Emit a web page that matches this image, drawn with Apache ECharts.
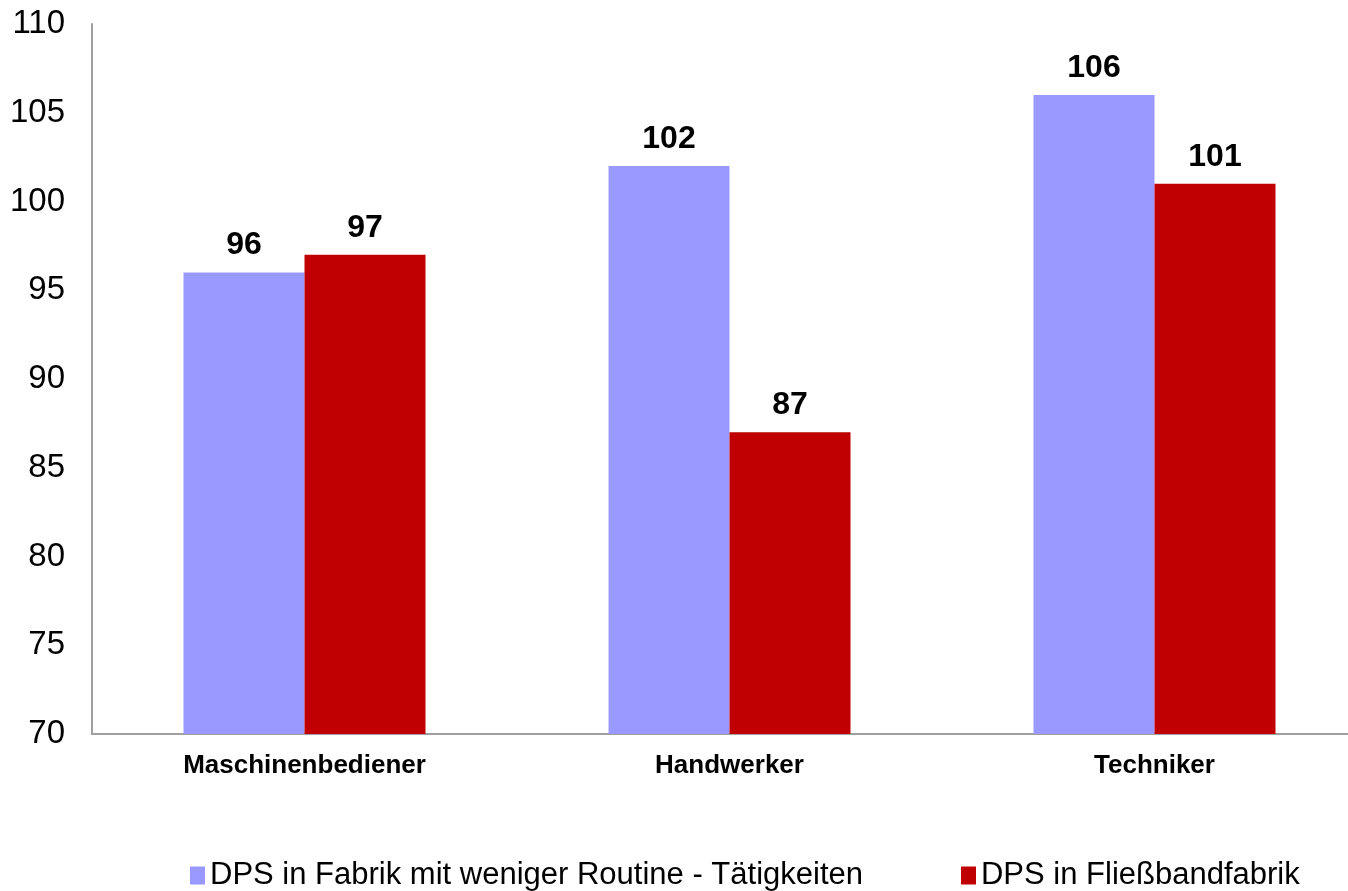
<!DOCTYPE html>
<html>
<head>
<meta charset="utf-8">
<script src="https://cdn.jsdelivr.net/npm/echarts@6/dist/echarts.min.js"></script>
<style>
  html, body { margin: 0; padding: 0; background: #fff; }
  #chart { width: 1348px; height: 891px; }
</style>
</head>
<body>
<div id="chart"></div>
<script>
// Categories and values
const categories = ['Maschinenbediener', 'Handwerker', 'Techniker'];
const seriesNames = ['DPS in Fabrik mit weniger Routine - Tätigkeiten', 'DPS in Fließbandfabrik'];
const routineValues = [96, 102, 106];
const conveyorValues = [97, 87, 101];
const yMin = 70, yMax = 110, yStep = 5;

const FONT = '"Liberation Sans", Arial, sans-serif';

const chart = echarts.init(document.getElementById('chart'), null, { renderer: 'canvas' });

const labelStyle = {
  show: true,
  position: 'top',
  distance: 11,
  color: '#000',
  fontFamily: FONT,
  fontWeight: 'bold',
  fontSize: 32
};

chart.setOption({
  backgroundColor: '#fff',
  animation: false,
  grid: {
    left: 92,
    right: -19,
    top: 24,
    bottom: 157,
    outerBoundsMode: 'none'
  },
  legend: {
    left: 185,
    top: 855,
    icon: 'rect',
    itemWidth: 15,
    itemHeight: 18,
    itemGap: 98,
    textStyle: { fontFamily: FONT, fontSize: 31, color: '#000' },
    data: seriesNames
  },
  xAxis: {
    type: 'category',
    data: categories,
    axisLine: { show: true, lineStyle: { color: '#a0a0a0', width: 2 } },
    axisTick: { show: false },
    axisLabel: {
      color: '#000',
      fontFamily: FONT,
      fontWeight: 'bold',
      fontSize: 26,
      margin: 19
    },
    splitLine: { show: false }
  },
  yAxis: {
    type: 'value',
    min: yMin,
    max: yMax,
    interval: yStep,
    axisLine: { show: true, lineStyle: { color: '#a0a0a0', width: 2 } },
    axisTick: { show: false },
    axisLabel: {
      color: '#000',
      fontFamily: FONT,
      fontSize: 33,
      margin: 27
    },
    splitLine: { show: false }
  },
  series: [
    {
      name: seriesNames[0],
      type: 'bar',
      data: routineValues,
      barWidth: 121,
      barGap: '0%',
      itemStyle: { color: '#9999FF' },
      label: labelStyle
    },
    {
      name: seriesNames[1],
      type: 'bar',
      data: conveyorValues,
      barWidth: 121,
      barGap: '0%',
      itemStyle: { color: '#C00000' },
      label: labelStyle
    }
  ]
});
</script>
</body>
</html>
